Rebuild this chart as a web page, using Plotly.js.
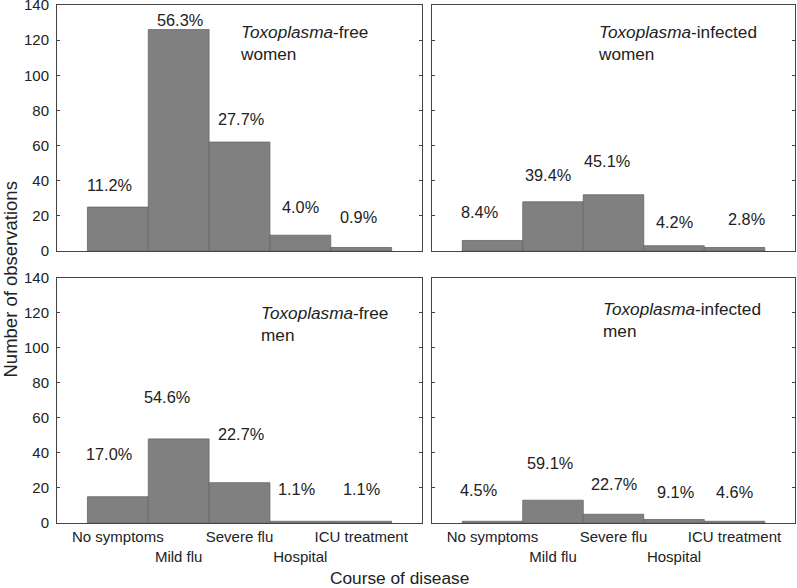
<!DOCTYPE html>
<html>
<head>
<meta charset="utf-8">
<script src="https://cdn.plot.ly/plotly-3.0.1.min.js"></script>
<style>html,body{margin:0;padding:0;background:#fff;}#chart{width:797px;height:588px;}</style>
</head>
<body>
<div id="chart"></div>
<script>
// ---- data ----
const categories = ['No symptoms', 'Mild flu', 'Severe flu', 'Hospital', 'ICU treatment'];
const tickLabels = ['No symptoms', '<br>Mild flu', 'Severe flu', '<br>Hospital', 'ICU treatment'];
const freeWomen = [25, 126, 62, 9, 2];
const infectedWomen = [6, 28, 32, 3, 2];
const freeMen = [15, 48, 23, 1, 1];
const infectedMen = [1, 13, 5, 2, 1];
const freeWomenPct = ['11.2%', '56.3%', '27.7%', '4.0%', '0.9%'];
const infectedWomenPct = ['8.4%', '39.4%', '45.1%', '4.2%', '2.8%'];
const freeMenPct = ['17.0%', '54.6%', '22.7%', '1.1%', '1.1%'];
const infectedMenPct = ['4.5%', '59.1%', '22.7%', '9.1%', '4.6%'];
const panelTitles = ['<i>Toxoplasma</i>-free<br>women', '<i>Toxoplasma</i>-infected<br>women',
                     '<i>Toxoplasma</i>-free<br>men', '<i>Toxoplasma</i>-infected<br>men'];

// ---- layout helpers (positions / styles) ----
const FONT = 'Liberation Sans, Arial, sans-serif';
const TXT = '#222';
const W = 797, H = 588, ML = 57, MR = 2, MT = 5, MB = 65;
const PW = W - ML - MR, PH = H - MT - MB;
const px2x = p => (p - ML) / PW;
const px2y = p => (H - MB - p) / PH;

// percentage label offsets (category units, value units) per panel
const labelPos = [
  [[-0.14, 37.6], [1.03, 131.5], [2.03, 75.1], [3.0, 25.2], [3.96, 19.5]],
  [[-0.21, 22.4], [0.92, 43.3], [1.89, 51.2], [3.0, 16.7], [4.2, 18.0]],
  [[-0.145, 39.3], [0.80, 72], [2.02, 50.7], [2.93, 19.3], [4.01, 19.3]],
  [[-0.23, 19.1], [0.95, 34], [2.0, 22.5], [3.02, 17.7], [4.0, 17.7]]
];
const titlePos = [[237.5, 43], [596, 42.5], [258.5, 323.5], [601, 319.7]];

const series = [freeWomen, infectedWomen, freeMen, infectedMen];
const pcts = [freeWomenPct, infectedWomenPct, freeMenPct, infectedMenPct];
const axes = [['x', 'y'], ['x2', 'y2'], ['x3', 'y3'], ['x4', 'y4']];
const xIdx = categories.map((_, i) => i);

const traces = series.map((vals, k) => ({
  type: 'bar',
  x: xIdx,
  y: vals,
  xaxis: axes[k][0],
  yaxis: axes[k][1],
  width: 1,
  marker: {color: '#808080', line: {color: '#666666', width: 0.8}},
  hoverinfo: 'skip',
  showlegend: false
}));

const annotations = [];
pcts.forEach((arr, k) => {
  arr.forEach((t, i) => {
    annotations.push({
      text: t, x: labelPos[k][i][0], y: labelPos[k][i][1],
      xref: axes[k][0], yref: axes[k][1],
      showarrow: false, xanchor: 'center', yanchor: 'middle',
      font: {family: FONT, size: 16.3, color: TXT}
    });
  });
});
panelTitles.forEach((t, k) => {
  annotations.push({
    text: t, x: px2x(titlePos[k][0]), y: px2y(titlePos[k][1]),
    xref: 'paper', yref: 'paper', showarrow: false,
    xanchor: 'left', yanchor: 'middle', align: 'left',
    font: {family: FONT, size: 17.2, color: TXT}
  });
});
annotations.push({
  text: 'Course of disease', x: px2x(399), y: px2y(577.5), xref: 'paper', yref: 'paper',
  showarrow: false, xanchor: 'center', yanchor: 'middle',
  font: {family: FONT, size: 17.3, color: TXT}
});
annotations.push({
  text: 'Number of observations', x: px2x(10.5), y: px2y(280), xref: 'paper', yref: 'paper',
  showarrow: false, xanchor: 'center', yanchor: 'middle', textangle: -90,
  font: {family: FONT, size: 18.5, color: TXT}
});

const leftDom = [0, px2x(422)];
const rightDom = [px2x(432), 1];
const topDom = [px2y(251), 1];
const botDom = [0, px2y(277.7)];

function xa(dom, anchor, showLabels) {
  return {
    domain: dom, anchor: anchor, range: [-1, 5],
    tickmode: 'array', tickvals: xIdx, ticktext: tickLabels, tickangle: 0,
    showticklabels: showLabels, ticks: '',
    showline: true, mirror: true, linecolor: '#444', linewidth: 1,
    showgrid: false, zeroline: false, fixedrange: true,
    tickfont: {family: FONT, size: 15, color: TXT}
  };
}
function ya(dom, anchor, showLabels) {
  return {
    domain: dom, anchor: anchor, range: [0, 140.001], tickmode: 'linear', dtick: 20, tick0: 0,
    showticklabels: showLabels, ticks: 'inside', ticklen: 3, tickcolor: '#444',
    ticklabeloverflow: 'allow', ticklabelstandoff: 4,
    showline: true, mirror: 'ticks', linecolor: '#444', linewidth: 1,
    showgrid: false, zeroline: false, fixedrange: true,
    tickfont: {family: FONT, size: 15, color: TXT}
  };
}

const layout = {
  width: W, height: H,
  margin: {l: ML, r: MR, t: MT, b: MB},
  paper_bgcolor: '#fff', plot_bgcolor: '#fff',
  bargap: 0,
  showlegend: false,
  xaxis: xa(leftDom, 'y', false),
  yaxis: ya(topDom, 'x', true),
  xaxis2: xa(rightDom, 'y2', false),
  yaxis2: ya(topDom, 'x2', false),
  xaxis3: xa(leftDom, 'y3', true),
  yaxis3: ya(botDom, 'x3', true),
  xaxis4: xa(rightDom, 'y4', true),
  yaxis4: ya(botDom, 'x4', false),
  annotations: annotations,
  font: {family: FONT, color: TXT}
};

Plotly.newPlot('chart', traces, layout, {staticPlot: true, displayModeBar: false});
</script>
</body>
</html>
